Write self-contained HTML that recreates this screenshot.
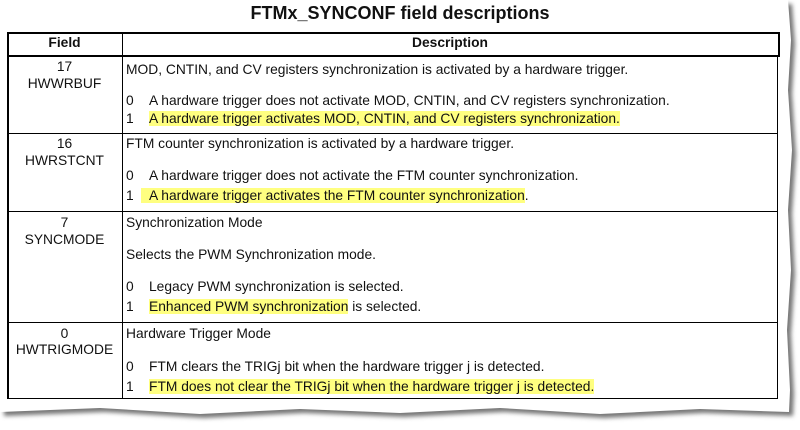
<!DOCTYPE html>
<html><head><style>
body{margin:0;width:800px;height:430px;background:#fff;position:relative;overflow:hidden;font-family:"Liberation Sans",Arial,sans-serif;font-size:13.8px;color:#111}
.a{position:absolute;white-space:nowrap;line-height:16px}
.c{width:115px;left:7px;text-align:center}
.h{background:#ffff80}
.l{position:absolute;background:#000}
</style></head><body>
<svg style="position:absolute;left:0;top:0" width="800" height="430">
<defs><filter id="s"><feGaussianBlur stdDeviation="2"/></filter></defs>
<path d="M0 0 H788 L791 40 L788 90 L792 150 L788 210 L791 270 L787 330 L790 390 L789 412 L700 409 L600 414 L500 408 L400 413 L300 409 L200 414 L100 408 L0 412 Z" fill="#777" filter="url(#s)" transform="translate(4,4)"/>
<path d="M0 0 H788 L791 40 L788 90 L792 150 L788 210 L791 270 L787 330 L790 390 L789 412 L700 409 L600 414 L500 408 L400 413 L300 409 L200 414 L100 408 L0 412 Z" fill="#fff"/>
</svg>
<div class="a" style="left:0;width:800px;text-align:center;top:2px;font-size:18px;font-weight:bold;line-height:22px">FTMx_SYNCONF field descriptions</div>
<div style="position:absolute;left:7px;top:32px;width:769px;height:21px;border:2px solid #000"></div>
<div class="l" style="left:7px;top:55px;width:2px;height:344px"></div>
<div class="l" style="left:777px;top:55px;width:1px;height:344px"></div>
<div class="l" style="left:122px;top:32px;width:1px;height:367px"></div>
<div class="l" style="left:7px;top:133px;width:771px;height:1px"></div>
<div class="l" style="left:7px;top:211px;width:771px;height:1px"></div>
<div class="l" style="left:7px;top:322px;width:771px;height:1px"></div>
<div class="l" style="left:7px;top:398px;width:771px;height:1px"></div>
<div class="a c" style="top:35px;font-weight:bold">Field</div>
<div class="a" style="left:123px;width:654px;text-align:center;top:35px;font-weight:bold">Description</div>

<div class="a c" style="top:59px">17</div>
<div class="a c" style="top:76px">HWWRBUF</div>
<div class="a" style="left:126px;top:62px">MOD, CNTIN, and CV registers synchronization is activated by a hardware trigger.</div>
<div class="a" style="left:126px;top:93px">0&nbsp;&nbsp;&nbsp;&nbsp;A hardware trigger does not activate MOD, CNTIN, and CV registers synchronization.</div>
<div class="a" style="left:126px;top:111px">1&nbsp;&nbsp;&nbsp;&nbsp;<span class="h">A hardware trigger activates MOD, CNTIN, and CV registers synchronization.</span></div>

<div class="a c" style="top:136px">16</div>
<div class="a c" style="top:153px">HWRSTCNT</div>
<div class="a" style="left:126px;top:136px">FTM counter synchronization is activated by a hardware trigger.</div>
<div class="a" style="left:126px;top:168px">0&nbsp;&nbsp;&nbsp;&nbsp;A hardware trigger does not activate the FTM counter synchronization.</div>
<div class="a" style="left:126px;top:188px">1&nbsp;&nbsp;<span class="h">&nbsp;&nbsp;A hardware trigger activates the FTM counter synchronization</span>.</div>

<div class="a c" style="top:215px">7</div>
<div class="a c" style="top:232px">SYNCMODE</div>
<div class="a" style="left:126px;top:215px">Synchronization Mode</div>
<div class="a" style="left:126px;top:247px">Selects the PWM Synchronization mode.</div>
<div class="a" style="left:126px;top:279px">0&nbsp;&nbsp;&nbsp;&nbsp;Legacy PWM synchronization is selected.</div>
<div class="a" style="left:126px;top:299px">1&nbsp;&nbsp;&nbsp;&nbsp;<span class="h">Enhanced PWM synchronization</span> is selected.</div>

<div class="a c" style="top:326px">0</div>
<div class="a c" style="top:342px">HWTRIGMODE</div>
<div class="a" style="left:126px;top:326px">Hardware Trigger Mode</div>
<div class="a" style="left:126px;top:359px">0&nbsp;&nbsp;&nbsp;&nbsp;FTM clears the TRIGj bit when the hardware trigger j is detected.</div>
<div class="a" style="left:126px;top:379px">1&nbsp;&nbsp;&nbsp;&nbsp;<span class="h">FTM does not clear the TRIGj bit when the hardware trigger j is detected.</span></div>
</body></html>
